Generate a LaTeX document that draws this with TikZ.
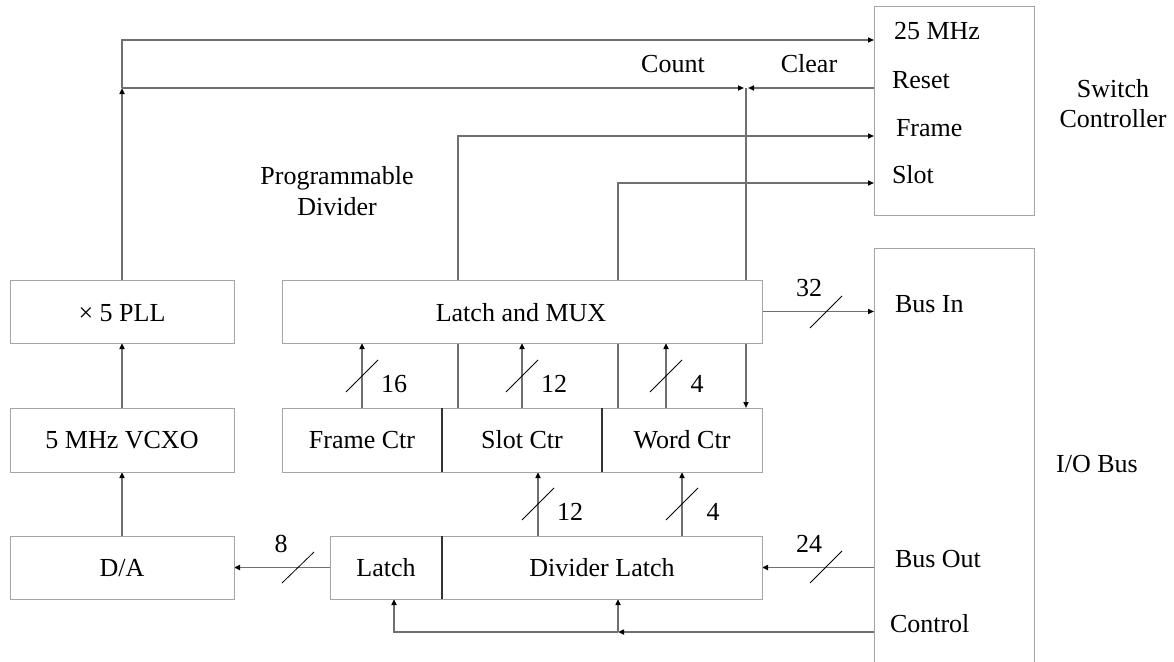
\documentclass[tikz,border=0pt]{standalone}
\usepackage{fontspec}
\setmainfont{Liberation Serif}
\usetikzlibrary{arrows.meta,backgrounds}
\definecolor{wirec}{RGB}{112,112,112}
\definecolor{boxc}{RGB}{165,165,165}
\definecolor{divc}{RGB}{50,50,50}
\tikzset{
  atip/.tip={Triangle[length=6pt,width=5pt,color=black]},
  box/.style={draw=boxc, line width=1pt, fill=white, inner sep=0pt, outer sep=0pt},
  wire/.style={draw=wirec, line width=1.6pt},
  dividr/.style={draw=divc, line width=2pt},
  slsh/.style={draw=black, line width=0.8pt},
  lbl/.style={anchor=base, inner sep=0pt, outer sep=0pt},
  lblw/.style={anchor=base west, inner sep=0pt, outer sep=0pt}
}
\begin{document}
\begin{tikzpicture}[x=1pt,y=-1pt,font=\fontsize{26}{30}\selectfont]
\useasboundingbox (0,0) rectangle (1174,661);

% boxes
\node[box,minimum width=224,minimum height=63] (pll) at (122,311.5) {};
\node[box,minimum width=224,minimum height=64] (vcxo) at (122,440) {};
\node[box,minimum width=224,minimum height=63] (da) at (122,567.5) {};
\node[box,minimum width=480,minimum height=63] (mux) at (522,311.5) {};
\node[box,minimum width=160,minimum height=64] (fc) at (362,440) {};
\node[box,minimum width=160,minimum height=64] (sc) at (522,440) {};
\node[box,minimum width=160,minimum height=64] (wc) at (682,440) {};
\node[box,minimum width=112,minimum height=63] (lat) at (386,567.5) {};
\node[box,minimum width=320,minimum height=63] (dl) at (602,567.5) {};
\node[box,minimum width=160,minimum height=208] (swc) at (954,111) {};
\draw[boxc, line width=1pt] (874,670) -- (874,248) -- (1034,248) -- (1034,670);
\coordinate (io) at (874,248);

\draw[dividr] (fc.north east) -- (fc.south east);
\draw[dividr] (sc.north east) -- (sc.south east);
\draw[dividr] (lat.north east) -- (lat.south east);

% coordinates
\coordinate (y25) at (0,40);
\coordinate (j1) at (122,88);
\coordinate (jcl) at (744,88);
\coordinate (jcr) at (748,88);
\coordinate (jc) at (746,88);
\coordinate (fr) at (458,136);
\coordinate (sl) at (618,183);
\coordinate (xw) at (666,0);
\coordinate (xs2) at (538,0);
\coordinate (ctl) at (874,632);
\coordinate (jct) at (618,632);
\coordinate (xl) at (394,0);

\begin{pgfonlayer}{background}
\draw[wire,-atip] (pll.north) -- (j1);
\draw[wire,-atip] (j1) |- (swc.west |- y25);
\draw[wire,-atip] (j1) -- (jcl);
\draw[wire,-atip] (swc.west |- j1) -- (jcr);
\draw[wire,-atip] (jc) -- (jc |- wc.north);
\draw[wire,-atip] (fr |- sc.north) -- (fr) -- (swc.west |- fr);
\draw[wire,-atip] (sl |- wc.north) -- (sl) -- (swc.west |- sl);
\draw[wire,-atip] (vcxo.north) -- (pll.south);
\draw[wire,-atip] (da.north) -- (vcxo.south);
\draw[wire,-atip] (fc.north) -- (fc.north |- mux.south);
\draw[wire,-atip] (sc.north) -- (sc.north |- mux.south);
\draw[wire,-atip] (xw |- wc.north) -- (xw |- mux.south);
\draw[wire,-atip] (xs2 |- dl.north) -- (xs2 |- sc.south);
\draw[wire,-atip] (wc.south |- dl.north) -- (wc.south);
\draw[wire,-atip] (lat.west) -- (da.east);
\draw[wire,-atip] (mux.east) -- (io |- mux.east);
\draw[wire,-atip] (io |- dl.east) -- (dl.east);
\draw[wire,-atip] (ctl) -- (jct);
\draw[wire,-atip] (jct) -- (jct |- dl.south);
\draw[wire,-atip] (jct) -| (xl |- lat.south);
\end{pgfonlayer}

% slashes
\draw[slsh] (346,392) -- (378,360);
\draw[slsh] (506,392) -- (538,360);
\draw[slsh] (650,392) -- (682,360);
\draw[slsh] (522,520) -- (554,488);
\draw[slsh] (666,520) -- (698,488);
\draw[slsh] (282,583) -- (314,552);
\draw[slsh] (810,328) -- (842,296);
\draw[slsh] (810,583) -- (842,551);

% bus widths
\node[lbl] (n16) at (394,392) {16};
\node[lbl] (n12a) at (554,392) {12};
\node[lbl] (n4a) at (697,392) {4};
\node[lbl] (n12b) at (570,520) {12};
\node[lbl] (n4b) at (713,520) {4};
\node[lbl] (n8) at (281,552) {8};
\node[lbl] (n32) at (809,296) {32};
\node[lbl] (n24) at (809,552) {24};

% box texts
\node[lbl] (tpll) at (122,321) {× 5 PLL};
\node[lbl] (tmux) at (521,321) {Latch and MUX};
\node[lbl] (tvcxo) at (122,448) {5 MHz VCXO};
\node[lbl] (tfc) at (362,448) {Frame Ctr};
\node[lbl] (tsc) at (522,448) {Slot Ctr};
\node[lbl] (twc) at (682,448) {Word Ctr};
\node[lbl] (tda) at (122,576) {D/A};
\node[lbl] (tlat) at (386,576) {Latch};
\node[lbl] (tdl) at (602,576) {Divider Latch};

% other labels
\node[lbl] (tcount) at (673,72) {Count};
\node[lbl] (tclear) at (809,72) {Clear};
\node[lblw] (t25) at (894,40) {25 MHz};
\node[lblw] (treset) at (892,88) {Reset};
\node[lblw] (tframe) at (896,136) {Frame};
\node[lblw] (tslot) at (892,183) {Slot};
\node[lbl] (tsw1) at (1113,97) {Switch};
\node[lbl] (tsw2) at (1113,127) {Controller};
\node[lbl] (tpd1) at (337,184) {Programmable};
\node[lbl] (tpd2) at (337,215) {Divider};
\node[lblw] (tbin) at (895,312) {Bus In};
\node[lblw] (tbout) at (895,567) {Bus Out};
\node[lblw] (tctl) at (890,632) {Control};
\node[lbl] (tio) at (1097,472) {I/O Bus};
\end{tikzpicture}
\end{document}
